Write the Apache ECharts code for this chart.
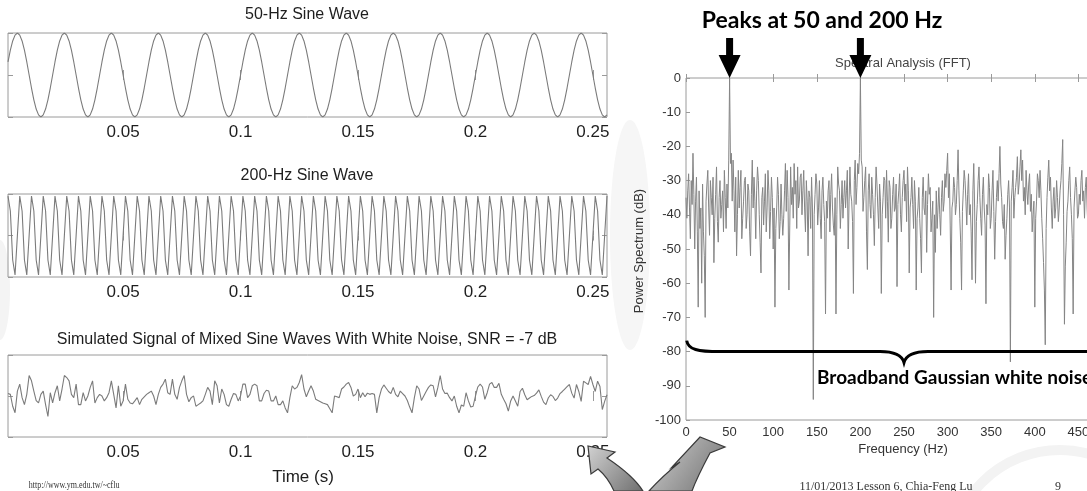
<!DOCTYPE html>
<html>
<head>
<meta charset="utf-8">
<script src="https://cdn.jsdelivr.net/npm/echarts@6/dist/echarts.min.js"></script>
<style>
  html, body { margin: 0; padding: 0; background: #ffffff; }
  #chart { width: 1087px; height: 491px; }
</style>
</head>
<body>
<div id="chart"></div>
<script>
// Sampling: 256 samples at 1 kHz, first sample at t = 1 ms
const sampleRate = 1000;

// 50-Hz sine wave samples
const wave50 = [
  0.31,0.59,0.81,0.95,1,0.95,0.81,0.59,0.31,0,-0.31,-0.59,-0.81,-0.95,-1,-0.95,-0.81,-0.59,-0.31,0,
  0.31,0.59,0.81,0.95,1,0.95,0.81,0.59,0.31,0,-0.31,-0.59,-0.81,-0.95,-1,-0.95,-0.81,-0.59,-0.31,0,
  0.31,0.59,0.81,0.95,1,0.95,0.81,0.59,0.31,0,-0.31,-0.59,-0.81,-0.95,-1,-0.95,-0.81,-0.59,-0.31,0,
  0.31,0.59,0.81,0.95,1,0.95,0.81,0.59,0.31,0,-0.31,-0.59,-0.81,-0.95,-1,-0.95,-0.81,-0.59,-0.31,0,
  0.31,0.59,0.81,0.95,1,0.95,0.81,0.59,0.31,0,-0.31,-0.59,-0.81,-0.95,-1,-0.95,-0.81,-0.59,-0.31,0,
  0.31,0.59,0.81,0.95,1,0.95,0.81,0.59,0.31,0,-0.31,-0.59,-0.81,-0.95,-1,-0.95,-0.81,-0.59,-0.31,0,
  0.31,0.59,0.81,0.95,1,0.95,0.81,0.59,0.31,0,-0.31,-0.59,-0.81,-0.95,-1,-0.95,-0.81,-0.59,-0.31,0,
  0.31,0.59,0.81,0.95,1,0.95,0.81,0.59,0.31,0,-0.31,-0.59,-0.81,-0.95,-1,-0.95,-0.81,-0.59,-0.31,0,
  0.31,0.59,0.81,0.95,1,0.95,0.81,0.59,0.31,0,-0.31,-0.59,-0.81,-0.95,-1,-0.95,-0.81,-0.59,-0.31,0,
  0.31,0.59,0.81,0.95,1,0.95,0.81,0.59,0.31,0,-0.31,-0.59,-0.81,-0.95,-1,-0.95,-0.81,-0.59,-0.31,0,
  0.31,0.59,0.81,0.95,1,0.95,0.81,0.59,0.31,0,-0.31,-0.59,-0.81,-0.95,-1,-0.95,-0.81,-0.59,-0.31,0,
  0.31,0.59,0.81,0.95,1,0.95,0.81,0.59,0.31,0,-0.31,-0.59,-0.81,-0.95,-1,-0.95,-0.81,-0.59,-0.31,0,
  0.31,0.59,0.81,0.95,1,0.95,0.81,0.59,0.31,0,-0.31,-0.59,-0.81,-0.95,-1,-0.95
];

// 200-Hz sine wave samples
const wave200 = [
  0.95,0.59,-0.59,-0.95,0, 0.95,0.59,-0.59,-0.95,0, 0.95,0.59,-0.59,-0.95,0, 0.95,0.59,-0.59,-0.95,0,
  0.95,0.59,-0.59,-0.95,0, 0.95,0.59,-0.59,-0.95,0, 0.95,0.59,-0.59,-0.95,0, 0.95,0.59,-0.59,-0.95,0,
  0.95,0.59,-0.59,-0.95,0, 0.95,0.59,-0.59,-0.95,0, 0.95,0.59,-0.59,-0.95,0, 0.95,0.59,-0.59,-0.95,0,
  0.95,0.59,-0.59,-0.95,0, 0.95,0.59,-0.59,-0.95,0, 0.95,0.59,-0.59,-0.95,0, 0.95,0.59,-0.59,-0.95,0,
  0.95,0.59,-0.59,-0.95,0, 0.95,0.59,-0.59,-0.95,0, 0.95,0.59,-0.59,-0.95,0, 0.95,0.59,-0.59,-0.95,0,
  0.95,0.59,-0.59,-0.95,0, 0.95,0.59,-0.59,-0.95,0, 0.95,0.59,-0.59,-0.95,0, 0.95,0.59,-0.59,-0.95,0,
  0.95,0.59,-0.59,-0.95,0, 0.95,0.59,-0.59,-0.95,0, 0.95,0.59,-0.59,-0.95,0, 0.95,0.59,-0.59,-0.95,0,
  0.95,0.59,-0.59,-0.95,0, 0.95,0.59,-0.59,-0.95,0, 0.95,0.59,-0.59,-0.95,0, 0.95,0.59,-0.59,-0.95,0,
  0.95,0.59,-0.59,-0.95,0, 0.95,0.59,-0.59,-0.95,0, 0.95,0.59,-0.59,-0.95,0, 0.95,0.59,-0.59,-0.95,0,
  0.95,0.59,-0.59,-0.95,0, 0.95,0.59,-0.59,-0.95,0, 0.95,0.59,-0.59,-0.95,0, 0.95,0.59,-0.59,-0.95,0,
  0.95,0.59,-0.59,-0.95,0, 0.95,0.59,-0.59,-0.95,0, 0.95,0.59,-0.59,-0.95,0, 0.95,0.59,-0.59,-0.95,0,
  0.95,0.59,-0.59,-0.95,0, 0.95,0.59,-0.59,-0.95,0, 0.95,0.59,-0.59,-0.95,0, 0.95,0.59,-0.59,-0.95,0,
  0.95,0.59,-0.59,-0.95,0, 0.95,0.59,-0.59,-0.95,0, 0.95,0.59,-0.59,-0.95,0, 0.95
];

// Mixed 50 + 200 Hz signal buried in white noise (SNR = -7 dB), scaled to the panel range
const mixedSignal = [
  0.06,0.04,-0.25,-0.41,0.12,0.29,-0.04,-0.21,0.04,0.5,
  0.37,0.12,-0.11,-0.17,0.04,0.12,-0.21,-0.5,0.08,-0.17,
  0.08,0.25,-0.12,0.17,0.5,0.45,0.37,0.04,-0.04,0.29,
  -0.21,-0.21,0.08,-0.12,0,0.21,0.37,-0.17,-0.04,0.04,
  0,-0.12,-0.04,0.08,0.37,0.04,-0.29,0.25,-0.25,-0.12,
  0.29,-0.08,-0.17,-0.19,-0.12,-0.04,-0.21,-0.08,-0.02,0.04,
  0.08,0.12,0,-0.21,0.04,0.21,0.29,0.41,0.08,0.04,
  0.41,0.04,-0.08,0.21,
  0.37,0.5,0.04,-0.14,-0.04,0,-0.25,-0.21,-0.17,-0.12,
  0.04,0.21,0.12,-0.21,0.37,0.25,-0.17,0.17,0.04,-0.21,
  -0.25,-0.08,0.06,0.04,-0.12,0,0.29,0.29,-0.04,0.04,
  0.25,0.29,0.25,-0.12,-0.12,0.06,0.14,0.12,-0.12,-0.12,
  0,-0.21,-0.21,-0.12,-0.29,-0.41,-0.04,0.25,0.17,0.21,
  0.33,0.52,0.17,-0.02,0.12,0.25,0.12,-0.08,-0.11,-0.14,
  -0.17,-0.19,-0.21,-0.31,-0.41,0,-0.02,-0.04,0.17,0.22,
  0.29,0.33,
  0.21,0,0.04,0.17,-0.04,0.08,-0.02,0.07,0.04,0.06,
  0.04,-0.41,-0.04,0.17,0.27,0.19,0.11,0.06,0.21,0.04,
  -0.02,0.12,0.06,0,-0.11,-0.27,-0.41,-0.04,0.25,0.17,
  -0.11,0,0.11,0.21,0.27,0.25,-0.02,0.21,0.5,0.17,
  0.06,0.07,-0.04,-0.12,0,-0.25,-0.41,-0.22,-0.25,0.08,
  -0.12,-0.27,-0.25,0,0.22,0.29,0.22,-0.08,0.08,0.29,
  0.33,0.21,0.21,0.31,0.04,-0.08,-0.19,-0.37,-0.12,0,
  -0.12,-0.25,
  0.11,0.19,0.03,-0.09,-0.05,-0.01,0.01,0.07,0.15,-0.01,
  -0.15,-0.21,-0.05,0.03,-0.01,-0.11,-0.05,0.06,0.11,0.17,
  0.23,0.28,0.07,-0.05,0.28,0.11,-0.13,0.36,0.32,0.28,
  0.48,0.28,0.11,0.36,0.23,-0.33,-0.13,0.03
];

// Power spectrum of the mixed signal (dB), one bin per Hz from 0 to 500 Hz
const freqStep = 1;
const spectrumDb = [
  -35,-41,-33,-28,-38,-47,-30,-37,-22,-34,
  -50,-36,-29,-45,-67,-33,-44,-38,-60,-31,
  -45,-52,-70,-36,-31,-27,-38,-46,-30,-35,
  -40,-29,-54,-41,-34,-26,-42,-48,-35,-30,
  -41,-37,-33,-45,-27,-35,-44,-31,-38,-24,
  0,-25,-22,-36,-24,-33,-45,-29,-52,-40,
  -27,-38,-32,-27,-47,-41,-36,-30,-29,-44,
  -40,-31,-33,-45,-52,-34,-24,-38,-29,-36,
  -47,-33,-26,-30,-40,-48,-57,-35,-32,-43,
  -36,-28,-45,-38,-27,-33,-47,-39,-29,-35,
  -50,-38,-67,-44,-38,-29,-34,-47,-42,-31,
  -40,-46,-41,-33,-25,-39,-27,-35,-62,-43,
  -26,-37,-32,-41,-25,-34,-30,-44,-26,-38,
  -36,-29,-28,-40,-33,-27,-38,-45,-30,-36,
  -52,-33,-35,-44,-29,-38,-94,-40,-34,-28,
  -31,-43,-38,-30,-41,-47,-33,-29,-37,-42,
  -69,-36,-41,-33,-30,-45,-34,-28,-38,-43,
  -46,-35,-69,-40,-26,-31,-33,-44,-37,-30,
  -41,-35,-30,-38,-33,-27,-50,-36,-26,-34,
  -36,-42,-63,-30,-24,-37,-32,-25,-28,-22,
  0,-24,-26,-39,-35,-30,-26,-45,-56,-33,
  -28,-37,-41,-29,-34,-40,-49,-35,-26,-31,
  -38,-44,-31,-36,-63,-40,-35,-29,-30,-41,
  -27,-36,-48,-30,-32,-44,-41,-34,-29,-39,
  -38,-31,-61,-37,-33,-28,-40,-45,-35,-30,
  -27,-36,-31,-42,-26,-33,-57,-38,-35,-29,
  -37,-44,-30,-36,-62,-41,-38,-32,-41,-47,
  -57,-35,-29,-38,-40,-33,-51,-37,-28,-34,
  -32,-45,-41,-36,-70,-40,-51,-33,-44,-38,
  -32,-40,-46,-35,-30,-39,-36,-28,-32,-27,
  -22,-35,-28,-43,-62,-38,-36,-29,-32,-40,
  -37,-30,-21,-33,-41,-48,-62,-39,-33,-27,
  -30,-36,-43,-34,-28,-40,-37,-45,-59,-33,
  -25,-38,-60,-42,-37,-30,-26,-35,-41,-46,
  -34,-29,-38,-43,-66,-37,-40,-28,-32,-44,
  -41,-33,-27,-39,-53,-42,-35,-30,-36,-28,
  -20,-31,-35,-42,-44,-37,-53,-46,-41,-34,
  -30,-38,-83,-36,-32,-27,-41,-35,-32,-29,
  -23,-34,-31,-26,-21,-30,-24,-36,-32,-40,
  -27,-33,-37,-31,-28,-39,-34,-45,-40,-36,
  -67,-41,-36,-28,-30,-35,-27,-33,-41,-47,
  -54,-62,-78,-44,-35,-29,-24,-33,-29,-38,
  -44,-36,-32,-41,-38,-30,-35,-42,-38,-33,
  -30,-25,-18,-40,-72,-55,-48,-39,-36,-30,
  -26,-35,-40,-47,-69,-38,-33,-29,-32,-41,
  -40,-34,-37,-30,-27,-36,-33,-41,-32,-29,
  -38,-44,-30,-36,-45,-33,-28,-40,-36,-31,
  -52,-38,-31,-29,-34,-42,-29,-37,-42,-35,
  -33,-30,-38,-45,-27,-36,-47,-39,-35,-30,
  -31,-37,-40,-33,-36,-42,-29,-34,-44,-38,-37
];

// Tick labels and titles
const timeTicks = [0.05, 0.1, 0.15, 0.2, 0.25];
const panelTitles = [
  '50-Hz Sine Wave',
  '200-Hz Sine Wave',
  'Simulated Signal of Mixed Sine Waves With White Noise, SNR = -7 dB'
];

const toTimeSeries = arr => arr.map((v, i) => [(i + 1) / sampleRate, v]);
const spectrumSeries = spectrumDb.map((v, i) => [i * freqStep, v]);

const GRAY_LINE = '#7b7b7b';
const BOX = '#9a9a9a';
const SANS = '"Liberation Sans", Arial, sans-serif';

// Free-form path shape driven by a list of canvas commands
echarts.graphic.registerShape('cmdPath', echarts.graphic.extendShape({
  shape: { cmds: [] },
  buildPath(ctx, shape) {
    shape.cmds.forEach(c => ctx[c[0]].apply(ctx, c.slice(1)));
  }
}));

const timePanels = [
  { top: 33, height: 84, data: wave50 },
  { top: 194, height: 83, data: wave200 },
  { top: 355, height: 82, data: mixedSignal }
];

const grids = [];
const xAxes = [];
const yAxes = [];
const series = [];

timePanels.forEach((p, i) => {
  grids.push({ left: 8, top: p.top, width: 599, height: p.height, show: true,
    borderColor: BOX, borderWidth: 1, backgroundColor: 'transparent', outerBoundsMode: 'none' });
  const common = {
    gridIndex: i, type: 'value', min: 0.001, max: 0.256,
    axisLine: { show: false }, splitLine: { show: false }
  };
  xAxes.push(Object.assign({}, common, {
    position: 'bottom',
    axisTick: { show: true, inside: true, length: 5, customValues: timeTicks, lineStyle: { color: BOX } },
    axisLabel: { show: true, customValues: timeTicks, fontSize: 17, fontFamily: SANS, color: '#1e1e1e', margin: 7 }
  }));
  xAxes.push(Object.assign({}, common, {
    position: 'top',
    axisTick: { show: true, inside: true, length: 5, customValues: timeTicks, lineStyle: { color: BOX } },
    axisLabel: { show: false }
  }));
  ['left', 'right'].forEach(pos => {
    yAxes.push({
      gridIndex: i, type: 'value', min: -1, max: 1, interval: 1, position: pos,
      axisLine: { show: false }, splitLine: { show: false }, axisLabel: { show: false },
      axisTick: { show: true, inside: true, length: 5, lineStyle: { color: BOX } }
    });
  });
  series.push({
    type: 'line', xAxisIndex: 2 * i, yAxisIndex: 2 * i, data: toTimeSeries(p.data),
    showSymbol: false, silent: true, lineStyle: { color: GRAY_LINE, width: 1.1 }
  });
});

// Spectrum panel (its right part runs past the page edge)
grids.push({ left: 686, top: 78, width: 436, height: 342, show: true,
  borderColor: BOX, borderWidth: 1, backgroundColor: 'transparent', outerBoundsMode: 'none' });
xAxes.push({
  gridIndex: 3, type: 'value', min: 0, max: 500, interval: 50, position: 'bottom',
  axisLine: { show: false }, splitLine: { show: false },
  axisTick: { show: true, inside: true, length: 4, lineStyle: { color: BOX } },
  axisLabel: { fontSize: 13, fontFamily: SANS, color: '#333', margin: 6 }
});
xAxes.push({
  gridIndex: 3, type: 'value', min: 0, max: 500, interval: 50, position: 'top',
  axisLine: { show: false }, splitLine: { show: false },
  axisTick: { show: true, inside: true, length: 4, lineStyle: { color: BOX } },
  axisLabel: { show: false }
});
yAxes.push({
  gridIndex: 3, type: 'value', min: -100, max: 0, interval: 10, position: 'left',
  axisLine: { show: false }, splitLine: { show: false },
  axisTick: { show: true, inside: true, length: 4, lineStyle: { color: BOX } },
  axisLabel: { fontSize: 13, fontFamily: SANS, color: '#333', margin: 5 }
});
series.push({
  type: 'line', xAxisIndex: 6, yAxisIndex: 6, data: spectrumSeries,
  showSymbol: false, silent: true, lineStyle: { color: '#858585', width: 1 }
});

const chart = echarts.init(document.getElementById('chart'), null, { renderer: 'canvas' });

function text(x, y, str, font, extra) {
  return {
    type: 'text', x: x, y: y, silent: true, z: 30,
    style: Object.assign({ text: str, font: font, fill: '#1e1e1e',
      textAlign: 'center', textVerticalAlign: 'middle' }, extra || {})
  };
}

chart.setOption({
  animation: false,
  backgroundColor: '#ffffff',
  grid: grids,
  xAxis: xAxes,
  yAxis: yAxes,
  series: series
});

// Annotations anchored to the spectrum axes
const px = (f, db) => chart.convertToPixel({ xAxisIndex: 6, yAxisIndex: 6 }, [f, db]);
const peakMarker = f => {
  const [cx, cy] = px(f, 0);
  return {
    type: 'polygon', silent: true, z: 20,
    shape: { points: [[cx - 3.5, cy - 40], [cx + 3.5, cy - 40], [cx + 3.5, cy - 23], [cx + 11, cy - 23],
                      [cx, cy], [cx - 11, cy - 23], [cx - 3.5, cy - 23]] },
    style: { fill: '#000' }
  };
};
const [bx0, by] = px(0, -80);
const [bxm] = px(250, -80);
const [bx1] = px(500, -80);
const braceCmds = [
  ['moveTo', bx0 + 0.7, by - 11],
  ['bezierCurveTo', bx0 + 2, by - 2, bx0 + 12, by, bx0 + 34, by],
  ['lineTo', bxm - 24, by],
  ['bezierCurveTo', bxm - 10, by, bxm - 2, by + 4, bxm, by + 11],
  ['bezierCurveTo', bxm + 2, by + 4, bxm + 10, by, bxm + 24, by],
  ['lineTo', bx1 - 34, by],
  ['bezierCurveTo', bx1 - 12, by, bx1 - 2, by - 2, bx1 - 0.7, by - 11]
];

const arrowFill = {
  type: 'linear', x: 0, y: 0, x2: 1, y2: 1,
  colorStops: [{ offset: 0, color: '#d2d2d2' }, { offset: 1, color: '#6e6e6e' }]
};

chart.setOption({
  graphic: [
    // faint slide background swirls
    { type: 'ellipse', silent: true, z: -10, shape: { cx: 630, cy: 235, rx: 20, ry: 115 },
      style: { fill: '#f6f6f6' } },
    { type: 'ellipse', silent: true, z: -10, shape: { cx: 0, cy: 290, rx: 10, ry: 50 },
      style: { fill: '#f4f4f4' } },
    { type: 'circle', silent: true, z: -10, shape: { cx: 1060, cy: 560, r: 110 },
      style: { fill: 'none', stroke: '#f3f3f3', lineWidth: 10 } },

    // panel titles and axis names
    text(307, 15, panelTitles[0], '16px ' + SANS),
    text(307, 176, panelTitles[1], '16px ' + SANS),
    text(307, 340, panelTitles[2], '16px ' + SANS),
    text(303, 477, 'Time (s)', '17px ' + SANS),
    Object.assign(text(903, 63, 'Spectral Analysis (FFT)', '13px ' + SANS, { fill: '#444' }), { z: 5 }),
    text(903, 449, 'Frequency (Hz)', '13px ' + SANS, { fill: '#333' }),
    Object.assign(text(0, 0, 'Power Spectrum (dB)', '13px ' + SANS, { fill: '#333' }),
      { x: 639, y: 251, rotation: Math.PI / 2 }),

    // highlighted notes
    text(822, 21, 'Peaks at 50 and 200 Hz', 'bold 23px Lato, sans-serif', { fill: '#000' }),
    peakMarker(50),
    peakMarker(200),
    { type: 'cmdPath', silent: true, z: 20, shape: { cmds: braceCmds },
      style: { fill: 'none', stroke: '#000', lineWidth: 3 } },
    text(817, 378, 'Broadband Gaussian white noise', 'bold 19px Lato, sans-serif',
      { fill: '#000', textAlign: 'left' }),

    // cycle arrows between the time and frequency domains
    { type: 'cmdPath', silent: true, z: 25,
      shape: { cmds: [['moveTo', 614, 491], ['bezierCurveTo', 610, 482, 604, 474, 598, 469],
        ['lineTo', 591, 474], ['lineTo', 588, 446], ['lineTo', 615, 452], ['lineTo', 607, 458],
        ['bezierCurveTo', 622, 468, 636, 480, 643, 491], ['closePath']] },
      style: { fill: arrowFill, stroke: '#3a3a3a', lineWidth: 1.2 } },
    { type: 'cmdPath', silent: true, z: 25,
      shape: { cmds: [['moveTo', 649, 491], ['bezierCurveTo', 659, 480, 670, 470, 680, 462],
        ['lineTo', 672, 467], ['lineTo', 700, 437], ['lineTo', 725, 447], ['lineTo', 710, 453],
        ['bezierCurveTo', 702, 468, 696, 480, 692, 491], ['closePath']] },
      style: { fill: arrowFill, stroke: '#3a3a3a', lineWidth: 1.2 } },

    // footer
    Object.assign(text(24, 485, 'http://www.ym.edu.tw/~cflu', '10px "Liberation Serif", serif',
      { fill: '#333', textAlign: 'left' }), { scaleX: 0.8, originX: 24 }),
    text(886, 487, '11/01/2013 Lesson 6, Chia-Feng Lu', '12px "Liberation Serif", serif', { fill: '#333' }),
    text(1058, 487, '9', '12px "Liberation Serif", serif', { fill: '#333' })
  ]
});
</script>
</body>
</html>
